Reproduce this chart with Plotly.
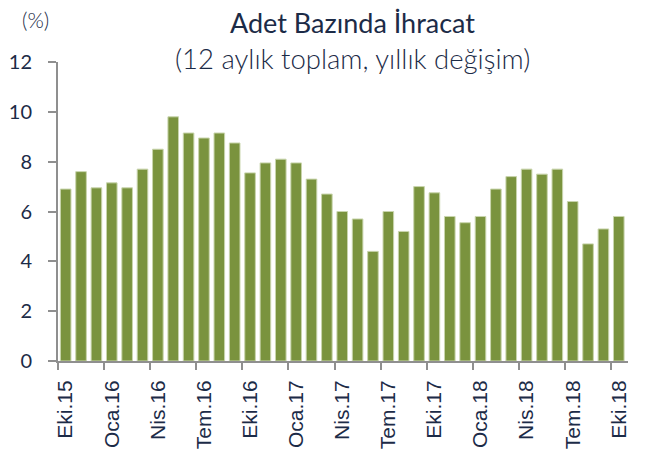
import plotly.graph_objects as go

# Monthly labels, Eki.15 .. Eki.18
months = ["Oca", "Şub", "Mar", "Nis", "May", "Haz", "Tem", "Ağu", "Eyl", "Eki", "Kas", "Ara"]
start_year, start_month = 15, 10
n_bars = 37

categories = []
for i in range(n_bars):
    m = (start_month - 1 + i) % 12
    y = start_year + (start_month - 1 + i) // 12
    categories.append(f"{months[m]}.{y}")

# 12-month total, annual change (%)
values = [
    6.9, 7.6, 6.95, 7.15, 6.95, 7.7, 8.5, 9.8, 9.15, 8.95, 9.15, 8.75,
    7.55, 7.95, 8.1, 7.95, 7.3, 6.7, 6.0, 5.7, 4.4, 6.0, 5.2, 7.0,
    6.75, 5.8, 5.55, 5.8, 6.9, 7.4, 7.7, 7.5, 7.7, 6.4, 4.7, 5.3, 5.8,
]

y_ticks = [0, 2, 4, 6, 8, 10, 12]

title_text = "Adet Bazında İhracat"
subtitle_text = "(12 aylık toplam, yıllık değişim)"
unit_text = "(%)"

text_color = "#1c2b47"
axis_color = "#8f8f8f"
bar_color = "#7a933e"

fig = go.Figure(
    go.Bar(
        x=categories,
        y=values,
        marker=dict(color=bar_color, line=dict(color="#c9d5ad", width=1)),
        hoverinfo="x+y",
    )
)

fig.update_layout(
    width=668,
    height=451,
    margin=dict(l=58, r=40, t=62, b=90),
    paper_bgcolor="white",
    plot_bgcolor="white",
    bargap=0.31,
    showlegend=False,
    font=dict(family="Lato", color=text_color),
)

fig.update_xaxes(
    type="category",
    categoryorder="array",
    categoryarray=categories,
    range=[-0.5, 36.6],
    tickmode="linear",
    tick0=0,
    dtick=3,
    tickson="boundaries",
    ticks="outside",
    ticklen=7,
    tickwidth=1.5,
    tickcolor=axis_color,
    tickangle=-90,
    tickfont=dict(family="Liberation Sans", size=21, color=text_color),
    ticklabelstandoff=9,
    showline=True,
    linecolor=axis_color,
    linewidth=2,
    showgrid=False,
    zeroline=False,
    automargin=False,
)

fig.update_yaxes(
    range=[0, 12],
    tickmode="array",
    tickvals=y_ticks,
    ticktext=[str(v) for v in y_ticks],
    ticks="outside",
    ticklen=8,
    tickwidth=1.5,
    tickcolor=axis_color,
    tickfont=dict(family="Lato", size=20, color=text_color),
    ticklabelstandoff=12,
    showline=True,
    linecolor=axis_color,
    linewidth=2,
    showgrid=False,
    zeroline=False,
    automargin=False,
)

fig.add_annotation(
    text=title_text, xref="paper", yref="paper", x=0.5175, y=1.0,
    yshift=40, xanchor="center", yanchor="middle", showarrow=False,
    font=dict(family="Lato", size=27, color=text_color),
)
fig.add_annotation(
    text=subtitle_text, xref="paper", yref="paper", x=0.5175, y=1.0,
    yshift=4, xanchor="center", yanchor="middle", showarrow=False,
    font=dict(family="Lato", size=27.5, color=text_color, weight=300),
)
fig.add_annotation(
    text=unit_text, xref="paper", yref="paper", x=0, y=1.0,
    xshift=-23, yshift=43, xanchor="center", yanchor="middle", showarrow=False,
    font=dict(family="Lato", size=21, color=text_color, weight=300),
)

fig.write_html("out.html")
